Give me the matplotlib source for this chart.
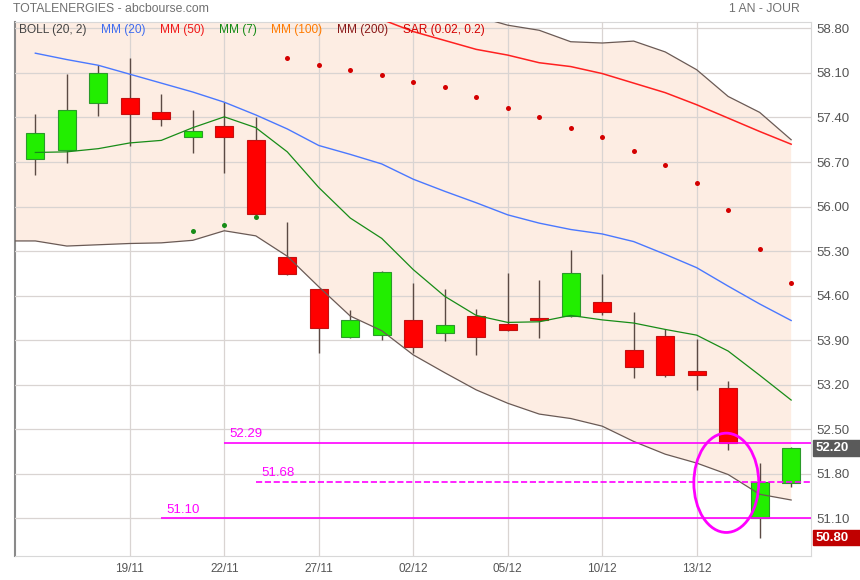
import numpy as np
import matplotlib.pyplot as plt
from matplotlib.patches import Ellipse, Rectangle
import matplotlib.transforms as mtransforms

plt.rcParams['font.family'] = ['Liberation Sans', 'DejaVu Sans']

# daily candles, 14/11 -> 18/12
dates = ['14/11', '15/11', '18/11', '19/11', '20/11', '21/11', '22/11', '25/11', '26/11',
         '27/11', '28/11', '29/11', '02/12', '03/12', '04/12', '05/12', '06/12', '09/12',
         '10/12', '11/12', '12/12', '13/12', '16/12', '17/12', '18/12']
opens = [56.75, 56.89, 57.63, 57.71, 57.49, 57.09, 57.27, 57.05, 55.21, 54.70, 53.95, 53.98, 54.22,
         54.02, 54.28, 54.15, 54.25, 54.28, 54.50, 53.75, 53.97, 53.42, 53.15, 51.10, 51.66]
highs = [57.46, 58.09, 58.23, 58.33, 57.77, 57.52, 57.64, 57.40, 55.75, 54.70, 54.38, 54.99, 54.80,
         54.71, 54.39, 54.96, 54.85, 55.32, 54.94, 54.35, 54.07, 53.92, 53.26, 51.97, 52.23]
lows = [56.50, 56.69, 57.43, 56.95, 57.27, 56.84, 56.52, 55.87, 54.93, 53.70, 53.94, 53.90, 53.70,
        53.89, 53.67, 54.04, 53.94, 54.27, 54.30, 53.30, 53.33, 53.12, 52.17, 50.80, 51.60]
closes = [57.16, 57.52, 58.10, 57.46, 57.37, 57.19, 57.09, 55.88, 54.94, 54.10, 54.22, 54.97, 53.80,
          54.14, 53.95, 54.06, 54.22, 54.95, 54.35, 53.48, 53.36, 53.36, 52.29, 51.68, 52.20]

# bollinger (20, 2) starts one session before the first visible candle
boll_low = [55.46, 55.46, 55.38, 55.40, 55.42, 55.43, 55.47, 55.62, 55.54, 55.22, 54.74, 54.28, 54.05,
            53.67, 53.39, 53.12, 52.91, 52.74, 52.67, 52.55, 52.31, 52.11, 51.97, 51.79, 51.48, 51.39]
boll_up = [61.40, 61.36, 61.25, 61.04, 60.75, 60.46, 60.13, 59.66, 59.35, 59.22, 59.18, 59.35, 59.30,
           59.20, 59.10, 58.99, 58.85, 58.77, 58.59, 58.57, 58.60, 58.43, 58.15, 57.73, 57.48, 57.05]
mm20 = [58.41, 58.31, 58.22, 58.08, 57.94, 57.80, 57.64, 57.44, 57.22, 56.96, 56.82, 56.67, 56.43,
        56.24, 56.06, 55.87, 55.74, 55.64, 55.57, 55.45, 55.25, 55.04, 54.75, 54.47, 54.21]
mm50 = [np.nan] * 10 + [59.13, 58.94, 58.75, 58.61, 58.47, 58.38, 58.26, 58.20, 58.09, 57.94, 57.79,
                        57.60, 57.39, 57.18, 56.98]
mm7 = [56.85, 56.86, 56.91, 57.00, 57.04, 57.24, 57.41, 57.24, 56.86, 56.30, 55.82, 55.50, 55.01,
       54.59, 54.29, 54.18, 54.19, 54.29, 54.22, 54.17, 54.07, 53.98, 53.73, 53.35, 52.96]
sar = [np.nan] * 5 + [55.61, 55.71, 55.83, 58.33, 58.23, 58.14, 58.06, 57.96, 57.88, 57.72, 57.55,
                      57.40, 57.24, 57.10, 56.88, 56.66, 56.37, 55.95, 55.34, 54.80]

levels = [52.29, 51.68, 51.10]
level_start = [6, 7, 4]
level_dash = ['-', '--', '-']

yticks = [51.10, 51.80, 52.50, 53.20, 53.90, 54.60, 55.30, 56.00, 56.70, 57.40, 58.10, 58.80]
last_price = 52.20
period_low = 50.80

legend_labels = ['BOLL (20, 2)', 'MM (20)', 'MM (50)', 'MM (7)', 'MM (100)', 'MM (200)', 'SAR (0.02, 0.2)']
legend_colors = ['#444444', '#3f6cf0', '#f01818', '#148a14', '#ff7a00', '#8a1818', '#d40000']

W, H = 860, 580
fig = plt.figure(figsize=(W / 100, H / 100), dpi=100)
ax = fig.add_axes([15 / W, 24 / H, 796 / W, 534 / H])

x = np.arange(len(dates))
bx = np.arange(-1, len(dates))
o, h, l, c = map(np.array, (opens, highs, lows, closes))

ax.fill_between(bx, boll_low, boll_up, color='#fdede3', lw=0, zorder=0.5)
ax.plot(bx, boll_low, color='#6a5a55', lw=0.9, zorder=5)
ax.plot(bx, boll_up, color='#6a5a55', lw=0.9, zorder=5)

up = c >= o
ax.vlines(x, l, h, color='#5b4a44', lw=1, zorder=3)
ax.bar(x[up], (c - o)[up], bottom=o[up], width=0.58, color='#22ee00', edgecolor='#2a9a2a', lw=0.8, zorder=4)
ax.bar(x[~up], (c - o)[~up], bottom=o[~up], width=0.58, color='#ff0000', edgecolor='#c41010', lw=0.8, zorder=4)

ax.plot(x, mm20, color='#4a78ff', lw=1, zorder=5)
ax.plot(x, mm50, color='#ff2020', lw=1.1, zorder=5)
ax.plot(x, mm7, color='#178c17', lw=0.9, zorder=5)

sar = np.array(sar)
rising = sar < l
ax.scatter(x[rising], sar[rising], s=13, color='#178c17', zorder=6, lw=0)
ax.scatter(x[~rising], sar[~rising], s=13, color='#d40000', zorder=6, lw=0)

xmin, xmax = -0.645, 24.63
for lev, st, ls in zip(levels, level_start, level_dash):
    ax.hlines(lev, st, xmax, color='#ff00ff', lw=1.2, linestyles=ls, zorder=7)
    ax.annotate(f'{lev:.2f}', (st, lev), xytext=(4, 2), textcoords='offset points',
                color='#ff00ff', fontsize=9.5, va='bottom', ha='left', zorder=7)

ax.add_patch(Ellipse((21.94, 51.66), 2.06, 1.56, fill=False, ec='#ff00ff', lw=2, zorder=8))

ax.set_xlim(xmin, xmax)
ax.set_ylim(50.51, 58.90)
ax.set_xticks(x[3:22:3])
ax.set_xticklabels(dates[3:22:3])
ax.set_yticks(yticks)
ax.set_yticklabels([f'{v:.2f}' for v in yticks])
ax.yaxis.tick_right()
ax.tick_params(axis='y', length=0, pad=4, labelsize=9.5, labelcolor='#555555')
ax.tick_params(axis='x', length=0, pad=5, labelsize=8.5, labelcolor='#555555')
ax.grid(True, color='#d9d4d2', lw=0.9, zorder=1)
ax.set_axisbelow(False)
for side in ['top', 'right', 'bottom']:
    ax.spines[side].set_color('#d8d8d8')
ax.spines['left'].set_color('#8a8a8a')
ax.spines['left'].set_linewidth(1.5)

# price boxes on the right scale
tr = mtransforms.blended_transform_factory(fig.transFigure, ax.transData)
bh = 0.25
for val, col in [(last_price, '#5a5a5a'), (period_low, '#c00000')]:
    ax.add_patch(Rectangle((813 / W, val - bh / 2), 47 / W, bh, transform=tr, color=col,
                           clip_on=False, zorder=9))
    ax.text(816 / W, val, f'{val:.2f}', transform=tr, color='white', fontsize=9.5,
            fontweight='bold', va='center', ha='left', zorder=10, clip_on=False)

fig.text(13 / W, 1 - 9 / H, 'TOTALENERGIES - abcbourse.com', color='#707070', fontsize=8.8, va='center')
fig.text(800 / W, 1 - 9 / H, '1 AN - JOUR', color='#707070', fontsize=8.8, va='center', ha='right')

fig.canvas.draw()
r = fig.canvas.get_renderer()
lx = 19
for lab, col in zip(legend_labels, legend_colors):
    t = fig.text(lx / W, 1 - 30 / H, lab, color=col, fontsize=8.6, va='center', zorder=10)
    bb = t.get_window_extent(r)
    lx = bb.x1 + 14.5

fig.savefig('out.png', dpi=100)
